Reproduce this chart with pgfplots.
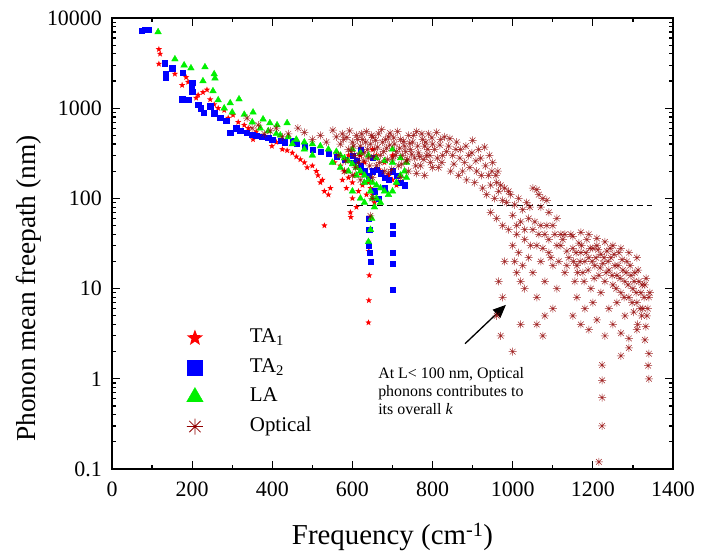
\documentclass[border=0pt]{standalone}
\usepackage{pgfplots}
\pgfplotsset{compat=1.18}
\usepackage{fontspec}
\setmainfont{Liberation Serif}
\usetikzlibrary{arrows.meta}
\definecolor{taone}{RGB}{255,0,0}
\definecolor{tatwo}{RGB}{0,0,255}
\definecolor{lacol}{RGB}{0,240,0}
\definecolor{optcol}{RGB}{145,0,0}
\pgfdeclareplotmark{fstar}{%
 \pgfpathmoveto{\pgfpointpolar{90}{\pgfplotmarksize}}%
 \pgfpathlineto{\pgfpointpolar{126}{0.42\pgfplotmarksize}}%
 \pgfpathlineto{\pgfpointpolar{162}{\pgfplotmarksize}}%
 \pgfpathlineto{\pgfpointpolar{198}{0.42\pgfplotmarksize}}%
 \pgfpathlineto{\pgfpointpolar{234}{\pgfplotmarksize}}%
 \pgfpathlineto{\pgfpointpolar{270}{0.42\pgfplotmarksize}}%
 \pgfpathlineto{\pgfpointpolar{306}{\pgfplotmarksize}}%
 \pgfpathlineto{\pgfpointpolar{342}{0.42\pgfplotmarksize}}%
 \pgfpathlineto{\pgfpointpolar{18}{\pgfplotmarksize}}%
 \pgfpathlineto{\pgfpointpolar{54}{0.42\pgfplotmarksize}}%
 \pgfpathclose\pgfusepathqfill}
\pgfdeclareplotmark{oast}{%
 \pgfpathmoveto{\pgfqpoint{-\pgfplotmarksize}{0pt}}\pgfpathlineto{\pgfqpoint{\pgfplotmarksize}{0pt}}%
 \pgfpathmoveto{\pgfqpoint{0pt}{-\pgfplotmarksize}}\pgfpathlineto{\pgfqpoint{0pt}{\pgfplotmarksize}}%
 \pgfpathmoveto{\pgfpointpolar{45}{\pgfplotmarksize}}\pgfpathlineto{\pgfpointpolar{225}{\pgfplotmarksize}}%
 \pgfpathmoveto{\pgfpointpolar{135}{\pgfplotmarksize}}\pgfpathlineto{\pgfpointpolar{315}{\pgfplotmarksize}}%
 \pgfusepathqstroke}
\newcommand{\tickfont}{\fontsize{22}{26}\selectfont}
\newcommand{\xlabfont}{\fontsize{29}{33}\selectfont}
\newcommand{\ylabfont}{\fontsize{27.5}{31}\selectfont}
\newcommand{\legfont}{\fontsize{21}{24}\selectfont}
\newcommand{\annfont}{\fontsize{16}{18}\selectfont}

\pgfplotstableread{
x y
117 4500
120 4000
117 3100
157 2400
175 1800
185 2200
190 1950
200 1700
215 1400
227 1500
237 1600
245 1250
210 1300
255 1100
265 1000
280 950
302 840
290 780
315 700
330 650
352 450
340 600
360 550
375 480
399 380
410 420
425 350
437 340
450 320
460 290
470 270
487 220
480 250
500 230
510 200
514 180
520 150
530 120
540 110
545 130
525 160
530 50
555 250
570 230
580 200
590 170
600 150
596 62
600 100
610 80
595 70
615 120
610 220
620 190
630 250
640 150
645 130
650 110
655 90
640 33
641 26
642 14
641 7.4
640 4.2
660 300
670 200
680 250
690 180
700 160
710 140
560 300
590 300
620 300
650 350
700 300
575 160
585 130
605 180
625 140
635 110
}\taone

\pgfplotstableread{
x y
75 7300
82 7350
92 7400
132 3150
135 2200
135 2400
150 2780
177 2450
200 1900
198 1700
200 1510
175 1260
190 1240
215 1100
222 1000
228 900
245 1050
255 880
270 780
285 720
295 530
310 600
320 560
337 530
350 510
360 500
375 480
390 470
400 450
420 440
430 420
452 440
460 400
480 380
500 350
520 330
540 310
560 290
580 270
600 250
610 260
620 230
630 200
640 180
650 200
660 210
670 190
680 170
690 160
700 200
710 180
720 150
730 140
700 50
700 41
701 25
701 19
700 9.8
640 60
642 45
641 30
643 25
645 20
655 120
665 100
680 130
600 300
620 350
650 280
}\tatwo

\pgfplotstableread{
x y
115 7000
157 3500
180 3000
197 2780
232 2860
227 2000
255 2390
257 2150
252 1550
265 1230
295 1140
317 1260
280 1000
300 900
330 850
352 900
377 755
394 685
412 650
437 685
350 700
370 600
390 560
410 520
420 500
440 480
460 450
480 420
500 400
520 380
540 350
560 330
570 300
580 280
590 260
600 240
610 220
620 200
630 180
640 160
650 150
660 140
670 130
680 120
690 110
700 120
710 150
720 180
730 200
735 170
600 350
620 320
640 300
660 280
680 260
700 250
720 280
550 250
570 220
590 200
610 180
630 150
645 120
650 100
655 80
648 60
645 45
640 33
660 100
670 90
600 120
620 100
630 90
735 250
700 350
450 400
480 350
500 300
}\lacol

\pgfplotstableread{
x y
337 775
350 600
365 650
380 520
395 560
410 600
425 480
440 520
464 600
480 540
500 450
520 500
535 420
551 570
560 480
570 400
575 520
586 475
590 350
600 420
605 300
610 500
615 250
620 380
625 450
630 320
635 550
640 280
645 400
651 475
655 350
660 230
665 520
670 300
675 420
680 200
685 360
690 480
694 530
700 280
705 400
710 330
715 230
720 450
725 300
730 380
735 260
740 500
745 350
750 420
755 280
760 550
765 320
770 230
775 450
780 380
785 300
790 520
795 250
800 400
580 200
600 180
620 160
650 170
690 190
720 170
740 200
760 190
780 180
800 220
565 300
578 450
583 260
593 560
597 330
603 380
608 220
613 450
618 300
623 520
628 260
633 420
638 350
643 230
648 500
653 290
658 440
663 370
668 250
673 580
678 330
683 450
688 270
693 390
698 210
703 470
708 300
713 550
718 360
723 240
728 430
733 330
738 270
743 410
748 310
753 500
758 230
763 380
768 290
773 520
778 270
783 420
788 350
793 300
798 470
645 64
650 100
810 540
820 450
830 480
840 380
850 300
860 420
870 350
880 250
890 300
900 440
910 200
920 280
930 370
940 180
950 250
960 150
815 220
825 300
845 200
865 180
885 160
905 150
925 130
935 110
945 140
955 100
965 120
975 95
985 90
995 110
1005 85
1015 100
1025 75
1035 90
1043 80
1050 130
1060 125
1065 110
1075 100
1085 95
1070 80
805 350
812 280
818 390
823 250
835 330
843 460
853 240
858 350
868 280
875 200
883 380
893 220
898 320
908 260
915 350
922 180
932 230
942 300
948 200
958 180
963 200
970 140
980 130
990 120
945 70
960 60
975 50
990 45
1000 65
1010 40
1020 55
1030 35
1040 60
1050 45
1060 30
1070 50
1080 40
1090 35
1100 50
1110 30
1120 40
1135 26
1090 70
1110 60
1000 30
1005 20
1010 15
1015 25
1020 12
1025 18
1030 10
1040 22
1050 15
1060 8
1070 20
1080 12
1090 25
1100 18
1110 10
1120 30
1130 15
1140 22
1150 28
1155 12
1160 18
1165 32
1170 25
1175 15
1180 20
1185 35
1190 22
1195 10
1200 28
1205 18
1210 30
1215 14
1220 24
1225 19
1230 12
1235 26
1240 16
1245 22
1250 11
1255 18
1260 14
1265 25
1270 9
1275 16
1280 12
1285 20
1290 8
1295 14
1300 10
1305 15
1310 7
1315 12
1320 9
1325 6
1330 11
1335 5
1340 8
1160 8
1180 6
1200 7
1220 9
1240 6
1260 7
1280 5
1100 6
1080 5
1060 4
1010 50
1030 45
1045 30
1055 55
1065 40
1075 28
1085 50
1095 22
1105 40
1115 20
1125 35
1135 18
1145 40
1152 20
1158 25
1162 15
1168 20
1172 30
1178 12
1183 25
1188 16
1193 28
1198 20
1203 13
1208 22
1213 27
1218 17
1228 22
1233 15
1238 20
1243 28
1248 14
1253 24
1258 10
1263 18
1268 13
1273 21
1278 8
1283 15
1288 11
1293 18
1298 7
1303 12
1308 9
1313 16
1318 6
1323 11
1328 8
1333 13
1337 6
1342 9
1312 4
1322 5
1332 3.8
1302 5.5
1130 40
1150 38
1170 42
1190 40
1210 36
1230 33
1250 30
1270 28
1290 25
1310 22
1150 5
1170 4
1190 3.5
1210 4.5
1230 3
1250 4
1270 3.2
1290 2.8
1310 3.5
1330 2.7
1340 1.9
1338 1.4
1340 1.0
1223 1.42
1223 0.96
1223 0.62
1223 0.30
1215 0.12
960 5
970 3
1000 2.0
1020 4
975 8
965 12
980 20
1270 1.8
1290 2.2
1075 3
}\optical

\begin{document}
\begin{tikzpicture}
\useasboundingbox (-112bp,-86bp) rectangle (595bp,469bp);
\begin{axis}[
  scale only axis, width=561bp, height=451bp,
  xmin=0, xmax=1400, ymode=log, ymin=0.1, ymax=10000,
  xtick={0,200,400,600,800,1000,1200,1400},
  xticklabels={0,200,400,600,800,1000,1200,1400},
  minor xtick={100,300,500,700,900,1100,1300},
  ytick={0.1,1,10,100,1000,10000},
  yticklabels={0.1,1,10,100,1000,10000},
  minor ytick={0.2,0.3,0.4,0.5,0.6,0.7,0.8,0.9,2,3,4,5,6,7,8,9,20,30,40,50,60,70,80,90,200,300,400,500,600,700,800,900,2000,3000,4000,5000,6000,7000,8000,9000},
  tick align=inside,
  major tick length=8bp, minor tick length=4.5bp,
  axis line style={line width=1.6bp},
  every tick/.style={line width=1.2bp, black},
  /pgf/number format/assume math mode=true,
  xticklabel style={font=\tickfont, inner sep=0pt, yshift=-13bp},
  yticklabel style={font=\tickfont, inner sep=0pt, xshift=-10bp},
  clip=false,
  legend style={draw=none, fill=none, inner sep=0pt, outer sep=0pt,
    at={(axis description cs:0.130,0.3115)}, anchor=north west,
    row sep=10.5bp, column sep=0pt, font=\legfont,
    nodes={inner sep=0pt, text height=14bp, text depth=5bp}},
  legend cell align=left,
  legend image code/.code={\path[draw=none, fill=none] (-10bp,-9.5bp) rectangle (55bp,9.5bp); \draw[#1] plot coordinates {(0bp,0bp)};},
]
\addlegendimage{only marks, mark=fstar, mark size=8.5bp, taone}
\addlegendentry{TA\textsubscript{1}}
\addlegendimage{only marks, mark=square*, mark size=7.5bp, tatwo}
\addlegendentry{TA\textsubscript{2}}
\addlegendimage{only marks, mark=triangle*, mark size=9.5bp, lacol}
\addlegendentry{LA}
\addlegendimage{only marks, mark=oast, mark size=8bp, optcol, line width=0.8bp}
\addlegendentry{Optical}

\addplot[forget plot, only marks, mark=fstar, mark size=3.3bp, taone] table {\taone};
\addplot[forget plot, only marks, mark=square*, mark size=2.6bp, tatwo, mark options={draw=none}] table {\tatwo};
\addplot[forget plot, only marks, mark=triangle*, mark size=3.8bp, lacol, mark options={draw=none}] table {\lacol};
\addplot[forget plot, only marks, mark=oast, mark size=4bp, optcol, line width=0.5bp, opacity=0.85] table {\optical};
\addplot[forget plot, black, line width=1.1bp, dash pattern=on 6bp off 4bp] coordinates {(586,83.6) (1348,83.6)};
\draw[line width=1.3bp, -{Triangle[length=13bp,width=11bp]}] (axis cs:881,2.45) -- (axis cs:983,6.6);
\node[anchor=north west, align=left, font=\annfont, inner sep=0pt] at (axis cs:664,1.33) {At L< 100 nm, Optical\\phonons contributes to\\its overall \textit{k}};
\node[anchor=base, font=\xlabfont, inner sep=0pt] at (axis description cs:0.5,-0.1685) {Frequency (cm\textsuperscript{-1})};
\node[anchor=base, rotate=90, font=\ylabfont, inner sep=0pt] at (axis description cs:-0.137,0.40) {Phonon mean freepath (nm)};
\end{axis}
\end{tikzpicture}
\end{document}
